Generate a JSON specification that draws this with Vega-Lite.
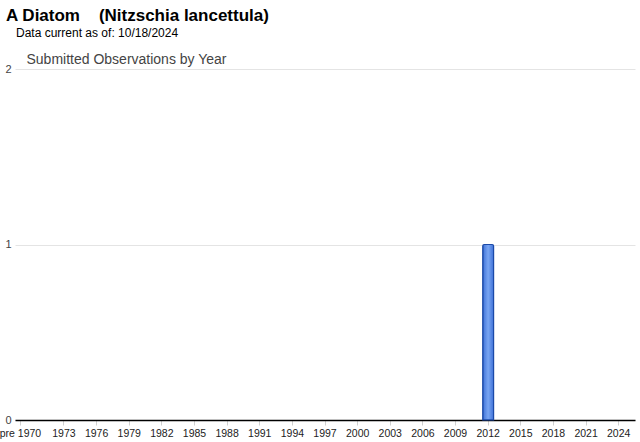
{
  "$schema": "https://vega.github.io/schema/vega-lite/v6.json",
  "width": 620,
  "height": 351,
  "autosize": {"type": "none"},
  "padding": {"left": 15, "top": 69, "right": 5, "bottom": 22},
  "background": "white",
  "title": {
    "text": "A Diatom\u00a0\u00a0\u00a0 (Nitzschia lancettula)",
    "subtitle": "\u200b\u00a0\u00a0\u00a0Data current as of: 10/18/2024",
    "anchor": "start",
    "frame": "group",
    "dx": -9,
    "offset": 12,
    "font": "Liberation Sans",
    "fontSize": 17,
    "fontWeight": "bold",
    "color": "#000000",
    "subtitleFont": "Liberation Sans",
    "subtitleFontSize": 12,
    "subtitleColor": "#000000",
    "subtitlePadding": 3
  },
  "data": {
    "values": [
      {"year": "pre 1970", "count": 0},
      {"year": "1970", "count": 0}, {"year": "1971", "count": 0}, {"year": "1972", "count": 0},
      {"year": "1973", "count": 0}, {"year": "1974", "count": 0}, {"year": "1975", "count": 0},
      {"year": "1976", "count": 0}, {"year": "1977", "count": 0}, {"year": "1978", "count": 0},
      {"year": "1979", "count": 0}, {"year": "1980", "count": 0}, {"year": "1981", "count": 0},
      {"year": "1982", "count": 0}, {"year": "1983", "count": 0}, {"year": "1984", "count": 0},
      {"year": "1985", "count": 0}, {"year": "1986", "count": 0}, {"year": "1987", "count": 0},
      {"year": "1988", "count": 0}, {"year": "1989", "count": 0}, {"year": "1990", "count": 0},
      {"year": "1991", "count": 0}, {"year": "1992", "count": 0}, {"year": "1993", "count": 0},
      {"year": "1994", "count": 0}, {"year": "1995", "count": 0}, {"year": "1996", "count": 0},
      {"year": "1997", "count": 0}, {"year": "1998", "count": 0}, {"year": "1999", "count": 0},
      {"year": "2000", "count": 0}, {"year": "2001", "count": 0}, {"year": "2002", "count": 0},
      {"year": "2003", "count": 0}, {"year": "2004", "count": 0}, {"year": "2005", "count": 0},
      {"year": "2006", "count": 0}, {"year": "2007", "count": 0}, {"year": "2008", "count": 0},
      {"year": "2009", "count": 0}, {"year": "2010", "count": 0}, {"year": "2011", "count": 0},
      {"year": "2012", "count": 1}, {"year": "2013", "count": 0}, {"year": "2014", "count": 0},
      {"year": "2015", "count": 0}, {"year": "2016", "count": 0}, {"year": "2017", "count": 0},
      {"year": "2018", "count": 0}, {"year": "2019", "count": 0}, {"year": "2020", "count": 0},
      {"year": "2021", "count": 0}, {"year": "2022", "count": 0}, {"year": "2023", "count": 0},
      {"year": "2024", "count": 0}, {"year": "2025", "count": 0}
    ]
  },
  "transform": [{"filter": "datum.count > 0"}],
  "mark": {
    "type": "bar",
    "color": {
      "gradient": "linear",
      "x1": 0, "x2": 1, "y1": 0, "y2": 0,
      "stops": [
        {"offset": 0, "color": "#3f72d8"},
        {"offset": 0.5, "color": "#7aa6f2"},
        {"offset": 1, "color": "#3f72d8"}
      ]
    },
    "stroke": "#1c4aa8",
    "strokeWidth": 1.2,
    "cornerRadiusTopLeft": 1.5,
    "cornerRadiusTopRight": 1.5
  },
  "encoding": {
    "x": {
      "field": "year",
      "type": "ordinal",
      "scale": {
        "domain": ["pre 1970", "1970", "1971", "1972", "1973", "1974", "1975", "1976", "1977", "1978", "1979", "1980", "1981", "1982", "1983", "1984", "1985", "1986", "1987", "1988", "1989", "1990", "1991", "1992", "1993", "1994", "1995", "1996", "1997", "1998", "1999", "2000", "2001", "2002", "2003", "2004", "2005", "2006", "2007", "2008", "2009", "2010", "2011", "2012", "2013", "2014", "2015", "2016", "2017", "2018", "2019", "2020", "2021", "2022", "2023", "2024", "2025"],
        "paddingInner": 0,
        "paddingOuter": 0
      },
      "axis": {
        "title": null,
        "values": ["pre 1970", "1973", "1976", "1979", "1982", "1985", "1988", "1991", "1994", "1997", "2000", "2003", "2006", "2009", "2012", "2015", "2018", "2021", "2024"],
        "labelAngle": 0,
        "labelFont": "Liberation Sans",
        "labelFontSize": 10.5,
        "labelColor": "#222222",
        "labelPadding": 3,
        "tickColor": "#d0d0d0",
        "tickSize": 5,
        "domainColor": "#000000",
        "domainWidth": 1.3,
        "grid": false,
        "labelOverlap": false
      }
    },
    "y": {
      "field": "count",
      "type": "quantitative",
      "scale": {"domain": [0, 2]},
      "axis": {
        "values": [0, 1, 2],
        "labelExpr": "'' + datum.value",
        "title": "Submitted Observations by Year",
        "titleAngle": 0,
        "titleAlign": "left",
        "titleBaseline": "alphabetic",
        "titleX": 11,
        "titleY": -6,
        "titleFont": "Liberation Sans",
        "titleFontSize": 14,
        "titleFontWeight": "normal",
        "titleColor": "#444444",
        "labelFont": "Liberation Sans",
        "labelFontSize": 11,
        "labelColor": "#444444",
        "labelPadding": 4,
        "labelOverlap": false,
        "ticks": false,
        "domain": false,
        "gridColor": "#e4e4e4"
      }
    }
  },
  "config": {"view": {"stroke": null}}
}
